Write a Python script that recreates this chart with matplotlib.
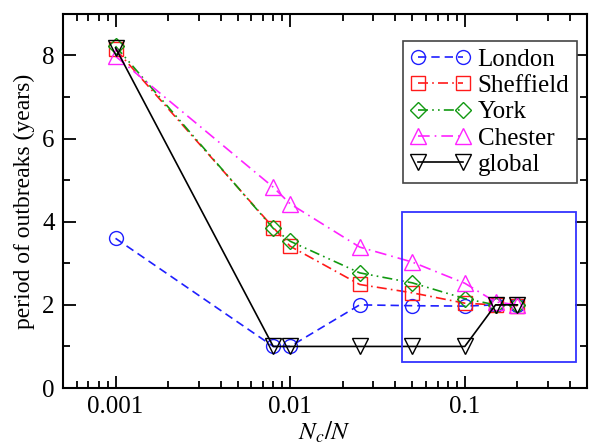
import matplotlib
matplotlib.use("Agg")
import matplotlib.pyplot as plt
from matplotlib.patches import Rectangle

plt.rcParams['font.family'] = ['Liberation Serif', 'DejaVu Serif']
plt.rcParams['mathtext.fontset'] = 'stix'

# data
nc_n = [0.001, 0.008, 0.01, 0.025, 0.05, 0.1, 0.15, 0.2]
london = [3.6, 1.0, 1.0, 2.0, 1.98, 1.97, 2.0, 2.0]
sheffield = [8.15, 3.86, 3.41, 2.49, 2.29, 2.04, 2.0, 1.98]
york = [8.22, 3.84, 3.53, 2.77, 2.53, 2.15, 2.0, 2.0]
chester = [7.98, 4.83, 4.43, 3.39, 3.03, 2.52, 2.07, 2.0]
global_ = [8.18, 1.0, 1.0, 1.0, 1.0, 1.0, 2.0, 2.0]

# highlighted region (blue box)
box_x = [0.0435, 0.436]
box_y = [0.63, 4.24]

fig = plt.figure(figsize=(5.94, 4.46), dpi=100)
ax = fig.add_axes([0.106, 0.130, 0.882, 0.839])

ms = 10
lw = 1.2
ax.plot(nc_n, london, color='#1f1fff', ls=(0, (5, 3)), lw=lw, marker='o', ms=ms,
        mfc='none', mew=1.0, label='London')
ax.plot(nc_n, sheffield, color='#ff1a1a', ls=(0, (6, 2.5, 1, 2.5)), lw=lw, marker='s',
        ms=ms - 0.5, mfc='none', mew=1.0, label='Sheffield')
ax.plot(nc_n, york, color='#119911', ls=(0, (6, 2.5, 1, 2.5, 1, 2.5)), lw=lw, marker='D',
        ms=ms - 2, mfc='none', mew=1.0, label='York')
ax.plot(nc_n, chester, color='#ff22ff', ls=(0, (7, 3, 1, 3)), lw=lw, marker='^', ms=ms + 1,
        mfc='none', mew=1.0, label='Chester')
ax.plot(nc_n, global_, color='black', ls='-', lw=lw, marker='v', ms=ms + 1,
        mfc='none', mew=1.0, label='global')

ax.add_patch(Rectangle((box_x[0], box_y[0]), box_x[1] - box_x[0], box_y[1] - box_y[0],
                       fill=False, edgecolor='#3333ff', lw=1.3, zorder=5))

ax.set_xscale('log')
ax.set_xlim(0.0005, 0.5)
ax.set_ylim(0, 9)
ax.set_xticks([0.001, 0.01, 0.1])
ax.set_xticklabels(['0.001', '0.01', '0.1'])
ax.set_yticks([0, 2, 4, 6, 8])
ax.set_yticks([1, 3, 5, 7], minor=True)
ax.tick_params(which='both', direction='in', top=True, right=True, labelsize=18, width=1.3)
ax.tick_params(which='major', length=9, pad=6)
ax.tick_params(which='minor', length=5)
for s in ax.spines.values():
    s.set_linewidth(1.5)

ax.set_xlabel('$N_c/N$', fontsize=18, labelpad=1)
ax.set_ylabel('period of outbreaks (years)', fontsize=17, labelpad=5)

leg = ax.legend(loc='upper right', bbox_to_anchor=(0.981, 0.928), fontsize=18,
                fancybox=False, edgecolor='#444444', framealpha=1, handlelength=2.4,
                numpoints=2, labelspacing=0.15, borderpad=0.3, handletextpad=0.3,
                borderaxespad=0)
leg.get_frame().set_linewidth(1.2)

fig.savefig('out.png', dpi=100)
